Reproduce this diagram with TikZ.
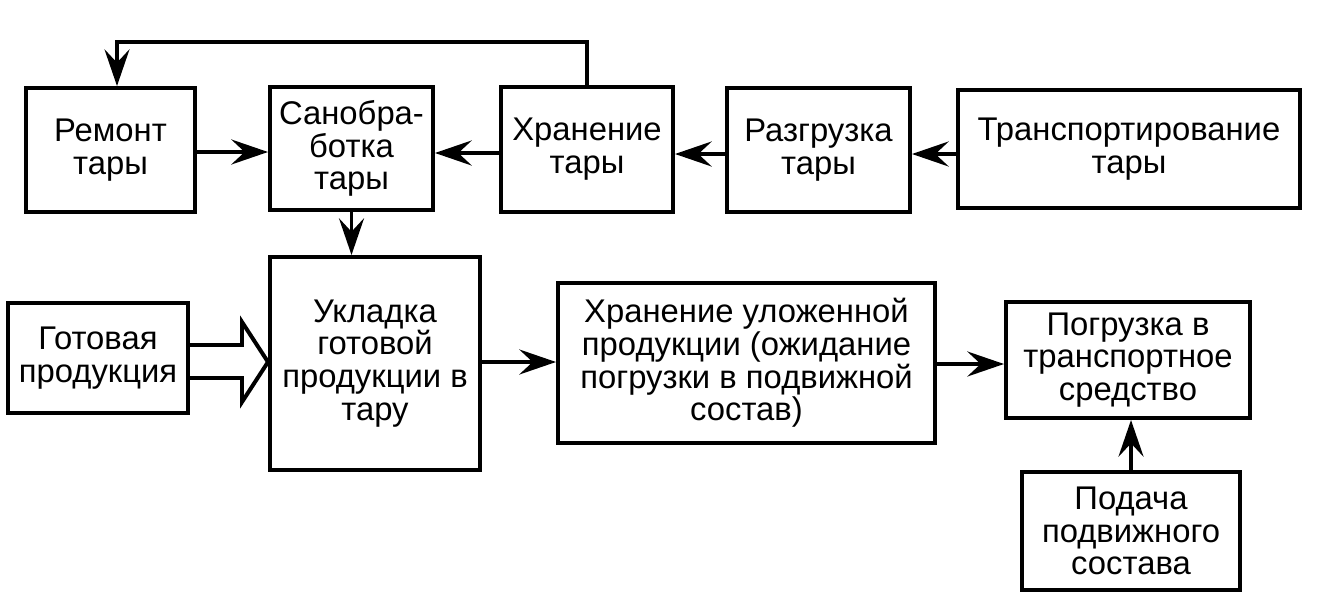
\documentclass[tikz,border=0pt]{standalone}
\usepackage{fontspec}
\setmainfont{Liberation Sans}
\usetikzlibrary{arrows.meta}

\begin{document}
\begin{tikzpicture}[x=0.03cm,y=-0.03cm,
  block/.style={draw, line width=3.4pt, align=center, inner sep=0pt,
    font=\fontsize{28}{28}\selectfont},
  arr/.style={line width=3.4pt, -{Stealth[length=1.1cm,width=0.75cm,inset=0.4cm]}}]
  \useasboundingbox (0,0) rectangle (1319,615);

  % Top row: container handling
  \node[block, minimum width=5.07cm, minimum height=3.72cm] (rem) at (110.5,150) {Ремонт\\тары};
  \node[block, minimum width=4.89cm, minimum height=3.69cm] (san) at (351.5,148.5) {Санобра-\\ботка\\тары};
  \node[block, minimum width=5.16cm, minimum height=3.75cm] (khr) at (587,149.5) {Хранение\\тары};
  \node[block, minimum width=5.49cm, minimum height=3.72cm] (raz) at (818.5,150) {Разгрузка\\тары};
  \node[block, minimum width=10.26cm, minimum height=3.54cm] (tra) at (1129,149) {Транспортирование\\тары};

  % Bottom row: products
  \node[block, minimum width=5.4cm, minimum height=3.3cm] (got) at (98,358) {Готовая\\продукция};
  \node[block, minimum width=6.3cm, minimum height=6.39cm] (ukl) at (375,363.5) {Укладка\\готовой\\продукции в\\тару};
  \node[block, minimum width=11.31cm, minimum height=4.8cm] (hul) at (746.5,363) {Хранение уложенной\\продукции (ожидание\\погрузки в подвижной\\состав)};
  \node[block, minimum width=7.32cm, minimum height=3.48cm] (pog) at (1128,360) {Погрузка в\\транспортное\\средство};
  \node[block, minimum width=6.54cm, minimum height=3.54cm] (pod) at (1131,531) {Подача\\подвижного\\состава};

  % Arrows of the top row
  \draw[arr] (tra.west |- 0,154) -- (raz.east |- 0,154);
  \draw[arr] (raz.west |- 0,154) -- (khr.east |- 0,154);
  \draw[arr] (khr.west |- 0,153) -- (san.east |- 0,153);
  \draw[arr] (rem.east |- 0,152) -- (san.west |- 0,152);

  % Loop back to repair
  \coordinate (loop) at (117,42);
  \draw[arr, line width=3pt] (khr.north) |- (loop) -- (loop |- rem.north);

  \draw[arr] (san.south) -- (san.south |- ukl.north);

  % Hollow double arrow
  \draw[line width=3.4pt, line join=miter]
    (got.east |- 0,345) -- (242,345) -- (242,322) -- (ukl.west |- 0,362)
    -- (242,402) -- (242,378) -- (got.east |- 0,378);

  \draw[arr] (ukl.east |- 0,362) -- (hul.west |- 0,362);
  \draw[arr] (hul.east |- 0,364) -- (pog.west |- 0,364);
  \draw[arr] (pod.north) -- (pod.north |- pog.south);

\end{tikzpicture}
\end{document}
